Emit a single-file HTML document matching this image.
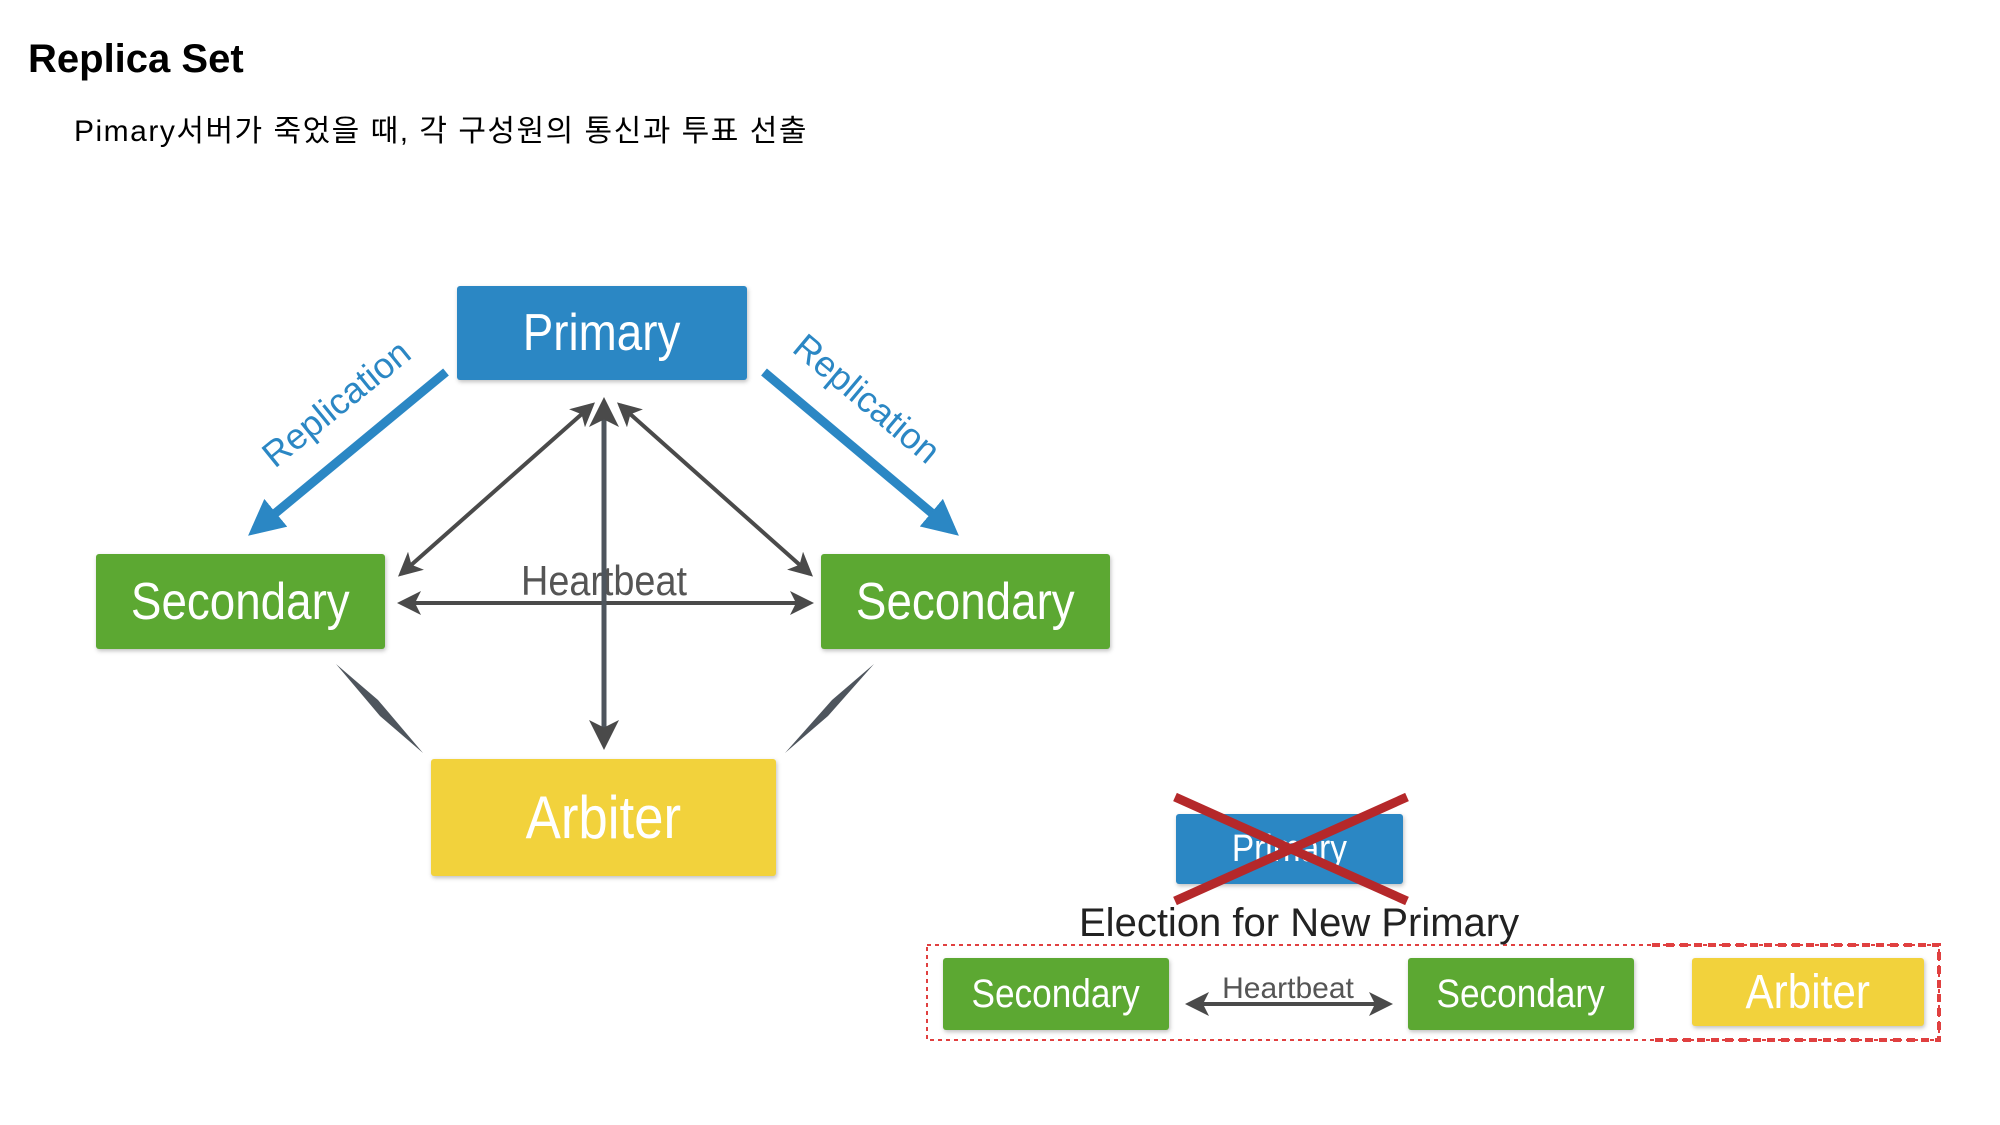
<!DOCTYPE html>
<html><head><meta charset="utf-8"><style>
body{margin:0;width:2000px;height:1125px;background:#fff;overflow:hidden;position:relative;font-family:"Liberation Sans","Noto Sans CJK KR",sans-serif}
.t{position:absolute;white-space:nowrap}
.box{position:absolute;display:flex;align-items:center;justify-content:center;color:#fff;font-family:"Liberation Sans",sans-serif;border-radius:3px;box-shadow:1px 2px 4px rgba(0,0,0,.25)}
.box span{display:inline-block;transform:scaleX(0.88)}
</style></head><body>
<div class="t" style="left:28px;top:37px;font-size:40px;font-weight:bold;color:#000">Replica Set</div>
<div class="t" style="left:74px;top:106px;font-size:30px;letter-spacing:1.5px;color:#000">Pimary서버가 죽었을 때, 각 구성원의 통신과 투표 선출</div>

<div class="box" style="left:457px;top:286px;width:290px;height:94px;background:#2b87c4;font-size:52px"><span>Primary</span></div>
<div class="box" style="left:96px;top:554px;width:289px;height:95px;background:#5ca832;font-size:52px"><span>Secondary</span></div>
<div class="box" style="left:821px;top:554px;width:289px;height:95px;background:#5ca832;font-size:52px"><span>Secondary</span></div>
<div class="box" style="left:431px;top:759px;width:345px;height:117px;background:#f2d23c;font-size:60px"><span>Arbiter</span></div>

<svg width="2000" height="1125" style="position:absolute;left:0;top:0">
<defs>
<marker id="g" markerWidth="6" markerHeight="6" refX="5" refY="3" orient="auto-start-reverse" markerUnits="strokeWidth"><path d="M0,0 L6,3 L0,6 L1.5,3z" fill="#4a4a4a"/></marker>
<marker id="b" markerWidth="4" markerHeight="4" refX="3" refY="2" orient="auto" markerUnits="strokeWidth"><path d="M0,0 L4,2 L0,4z" fill="#2b87c4"/></marker>
</defs>
<line x1="446" y1="372" x2="255" y2="530" stroke="#2b87c4" stroke-width="9" marker-end="url(#b)"/>
<line x1="764" y1="372" x2="952" y2="530" stroke="#2b87c4" stroke-width="9" marker-end="url(#b)"/>
<text x="344" y="413" transform="rotate(-39 344 413)" text-anchor="middle" font-size="36" fill="#2b87c4" font-family="Liberation Sans">Replication</text>
<text x="859" y="408" transform="rotate(40 859 408)" text-anchor="middle" font-size="36" fill="#2b87c4" font-family="Liberation Sans">Replication</text>
<line x1="592" y1="405" x2="401" y2="574" stroke="#4a4a4a" stroke-width="4" marker-start="url(#g)" marker-end="url(#g)"/>
<line x1="620" y1="405" x2="810" y2="574" stroke="#4a4a4a" stroke-width="4" marker-start="url(#g)" marker-end="url(#g)"/>
<line x1="401" y1="603" x2="810" y2="603" stroke="#4a4a4a" stroke-width="4" marker-start="url(#g)" marker-end="url(#g)"/>
<text x="604" y="595" text-anchor="middle" font-size="42" fill="#555" font-family="Liberation Sans" transform="translate(604 0) scale(0.9 1) translate(-604 0)">Heartbeat</text>
<line x1="604" y1="402" x2="604" y2="745" stroke="#4e555d" stroke-width="5" marker-start="url(#g)" marker-end="url(#g)"/>
<path d="M336,664 L378,700 L423,753 L380,716 Z" fill="#4e555d"/>
<path d="M874,664 L832,700 L785,753 L828,716 Z" fill="#4e555d"/>

<rect x="927" y="945" width="1012" height="95" fill="none" stroke="#e04040" stroke-width="2" stroke-dasharray="4 4"/>
<path d="M1652,945 H1939 V1040 H1652" fill="none" stroke="#e04040" stroke-width="4" stroke-dasharray="8 6"/>
</svg>

<div class="box" style="left:1176px;top:814px;width:227px;height:70px;background:#2b87c4;font-size:38px"><span>Primary</span></div>
<svg width="2000" height="1125" style="position:absolute;left:0;top:0">
<line x1="1175" y1="797" x2="1407" y2="901" stroke="#b5282a" stroke-width="9"/>
<line x1="1407" y1="797" x2="1175" y2="901" stroke="#b5282a" stroke-width="9"/>
</svg>
<div class="t" style="left:1079px;top:901px;font-size:40px;color:#222">Election for New Primary</div>

<div class="box" style="left:943px;top:958px;width:226px;height:72px;background:#5ca832;font-size:40px"><span>Secondary</span></div>
<div class="box" style="left:1408px;top:958px;width:226px;height:72px;background:#5ca832;font-size:40px"><span>Secondary</span></div>
<div class="box" style="left:1692px;top:958px;width:232px;height:68px;background:#f2d23c;font-size:48px"><span>Arbiter</span></div>
<svg width="2000" height="1125" style="position:absolute;left:0;top:0">
<defs><marker id="g2" markerWidth="6" markerHeight="6" refX="5" refY="3" orient="auto-start-reverse" markerUnits="strokeWidth"><path d="M0,0 L6,3 L0,6 L1.5,3z" fill="#4a4a4a"/></marker></defs>
<line x1="1189" y1="1004" x2="1389" y2="1004" stroke="#4a4a4a" stroke-width="4" marker-start="url(#g2)" marker-end="url(#g2)"/>
<text x="1288" y="998" text-anchor="middle" font-size="30" fill="#555" font-family="Liberation Sans">Heartbeat</text>
</svg>
</body></html>
